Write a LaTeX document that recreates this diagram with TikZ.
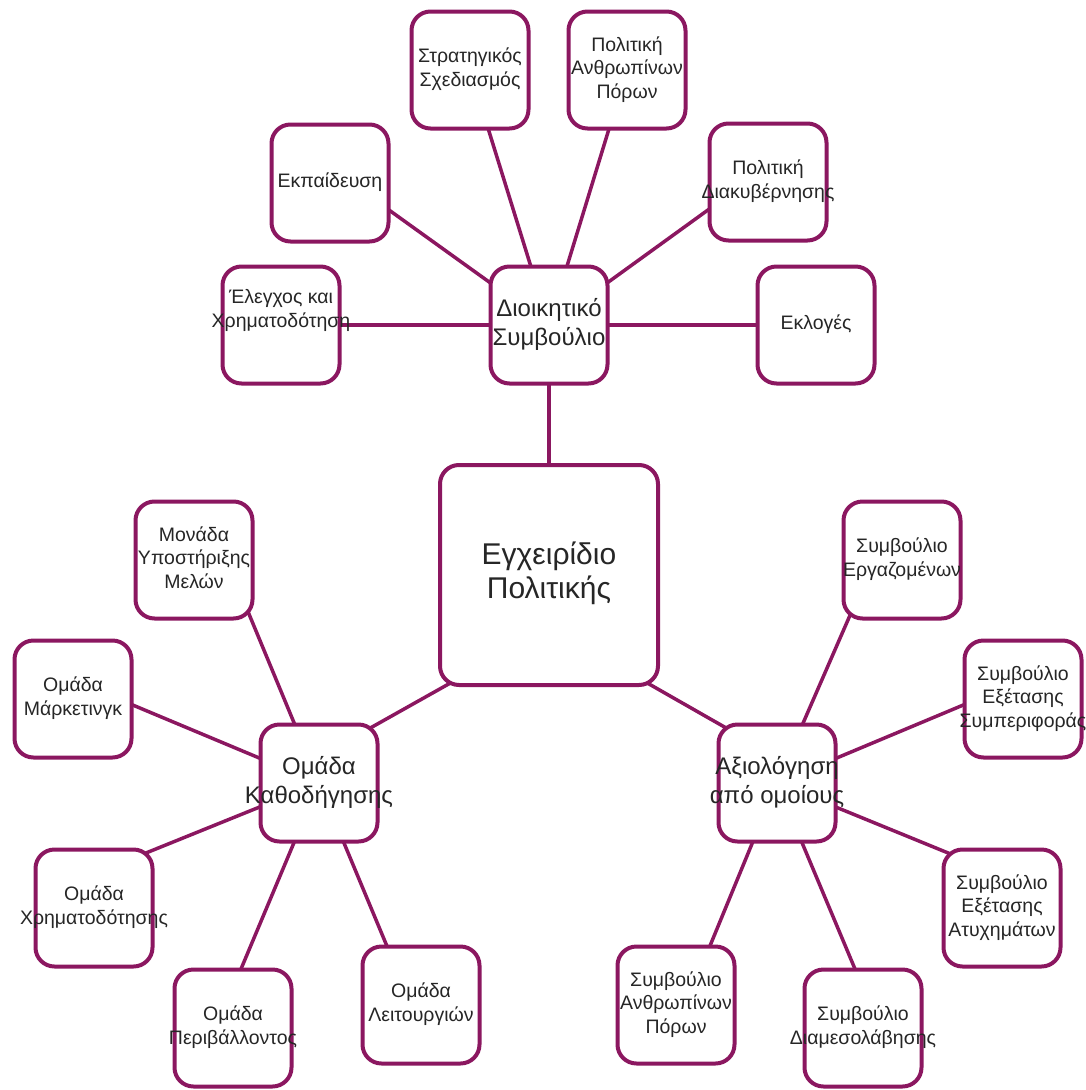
\documentclass[tikz,border=0pt]{standalone}
\usepackage{fontspec}
\setmainfont{Liberation Sans}
\usetikzlibrary{calc, backgrounds}
\definecolor{plum}{RGB}{139,23,96}
\definecolor{ink}{RGB}{38,38,38}
\newcommand{\boxlines}[1]{\makebox[0pt]{\begin{tabular}{@{}c@{}}#1\end{tabular}}}

\begin{document}
\begin{tikzpicture}[x=1pt, y=-1pt,
    box/.style={draw=plum, line width=4pt, rounded corners=19pt, fill=white,
        text=ink, inner sep=0pt, minimum width=117pt, minimum height=117pt,
        font=\fontsize{19.5}{23.5}\selectfont},
    hub/.style={box, font=\fontsize{24}{29}\selectfont},
    link/.style={draw=plum, line width=3.5pt}]
\useasboundingbox (0,0) rectangle (1085,1090);
%\tikzstyle{place}=[box]
\node[box, minimum width=218pt, minimum height=220pt, font=\fontsize{30}{34}\selectfont]
    (main) at (549,575) {\boxlines{Εγχειρίδιο\\Πολιτικής}};

\node[hub] (board) at (549,325) {\boxlines{Διοικητικό\\Συμβούλιο}};
\node[box] (audit) at (281,325) {\raisebox{9pt}[0pt][0pt]{\boxlines{Έλεγχος και\\Χρηματοδότηση}}};
\node[box] (train) at (330,183) {\boxlines{Εκπαίδευση}};
\node[box] (strat) at (470,70) {\boxlines{Στρατηγικός\\Σχεδιασμός}};
\node[box] (hr) at (627,70) {\boxlines{Πολιτική\\Ανθρωπίνων\\Πόρων}};
\node[box] (gov) at (768,182) {\boxlines{Πολιτική\\Διακυβέρνησης}};
\node[box] (elect) at (816,325) {\boxlines{Εκλογές}};

\node[hub] (mentor) at (319,783) {\boxlines{Ομάδα\\Καθοδήγησης}};
\node[box] (support) at (194,560) {\boxlines{Μονάδα\\Υποστήριξης\\Μελών}};
\node[box] (market) at (73,699) {\boxlines{Ομάδα\\Μάρκετινγκ}};
\node[box] (fund) at (94,908) {\boxlines{Ομάδα\\Χρηματοδότησης}};
\node[box] (env) at (233,1028) {\boxlines{Ομάδα\\Περιβάλλοντος}};
\node[box] (ops) at (421,1005) {\boxlines{Ομάδα\\Λειτουργιών}};

\node[hub] (peer) at (777,783) {\boxlines{Αξιολόγηση\\από ομοίους}};
\node[box] (staff) at (902,560) {\boxlines{Συμβούλιο\\Εργαζομένων}};
\node[box] (conduct) at (1023,699) {\boxlines{Συμβούλιο\\Εξέτασης\\Συμπεριφοράς}};
\node[box] (accid) at (1002,908) {\boxlines{Συμβούλιο\\Εξέτασης\\Ατυχημάτων}};
\node[box] (mediat) at (863,1028) {\boxlines{Συμβούλιο\\Διαμεσολάβησης}};
\node[box] (hrboard) at (676,1005) {\boxlines{Συμβούλιο\\Ανθρωπίνων\\Πόρων}};

\begin{scope}[on background layer]
    \path [link] (main.center) edge (board.center);
    \path [link] (board.center) edge (audit.center);
    \path [link] (board.center) edge ($(train.center)+(20,-1)$);
    \path [link] (board.center) edge (strat.center);
    \path [link] (board.center) edge (hr.center);
    \path [link] (board.center) edge ($(gov.center)+(-20,-1)$);
    \path [link] (board.center) edge (elect.center);

    \path [link] ($(main.center)+(-79,97)$) edge ($(mentor.center)+(21,-38)$);
    \path [link] (mentor.center) edge ($(support.center)+(38,13)$);
    \path [link] (mentor.center) edge ($(market.center)+(0,-19)$);
    \path [link] (mentor.center) edge ($(fund.center)+(0,-34)$);
    \path [link] (mentor.center) edge ($(env.center)+(-5,-28)$);
    \path [link] (mentor.center) edge ($(ops.center)+(-22,-30)$);

    \path [link] ($(main.center)+(79,97)$) edge ($(peer.center)+(-21,-38)$);
    \path [link] (peer.center) edge ($(staff.center)+(-41,30)$);
    \path [link] (peer.center) edge ($(conduct.center)+(0,-19)$);
    \path [link] (peer.center) edge ($(accid.center)+(0,-33)$);
    \path [link] (peer.center) edge ($(mediat.center)+(5,-28)$);
    \path [link] (peer.center) edge ($(hrboard.center)+(22,-30)$);
\end{scope}
\end{tikzpicture}
\end{document}
